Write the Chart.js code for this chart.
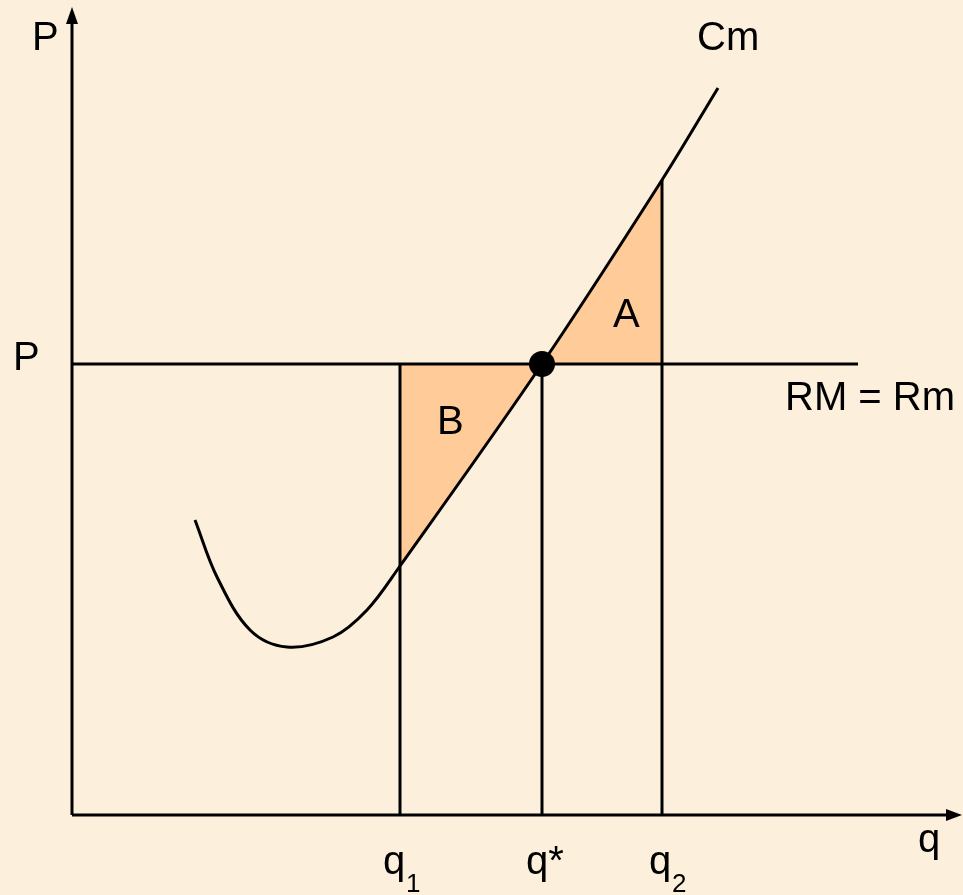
<!DOCTYPE html>
<html>
<head>
<meta charset="utf-8">
<script src="https://cdn.jsdelivr.net/npm/chart.js@4.4.0/dist/chart.umd.min.js"></script>
<style>
    html, body { margin: 0; padding: 0; background: #fcf0dc; }
    canvas { display: block; }
</style>
</head>
<body>
<canvas id="surplusChart" width="963" height="895"></canvas>
<script>
// quantities and price level
const q1 = 32.8;
const qStar = 47.0;
const q2 = 59.0;
const price = 45.1;
const priceLineEnd = 78.6;

// marginal cost curve (Cm)
const cmQ = [12.3, 14.5, 17.8, 21.5, 26.1, 29.5, 32.8, 47.0, 59.0, 64.6];
const cmValues = [29.5, 23.8, 18.5, 16.8, 17.8, 20.5, 24.9, 45.1, 63.5, 72.7];

// axis extents
const qAxisEnd = 89.0;
const pAxisEnd = 80.8;

// labels
const labelText = ['P', 'P', 'Cm', 'RM = Rm', 'A', 'B', 'q', 'q', '1', 'q*', 'q', '2'];
const labelX = [-4.0, -5.9, 62.5, 71.3, 54.1, 36.5, 84.6, 31.1, 33.4, 45.4, 57.7, 60.0];
const labelY = [76.5, 44.5, 76.5, 40.5, 48.8, 38.1, -3.7, -5.9, -7.7, -5.9, -5.9, -7.7];
const labelSize = [40, 40, 40, 40, 40, 40, 40, 40, 26, 40, 40, 26];

const cmAt = q => cmValues[cmQ.indexOf(q)];

function drawArrow(ctx, tipX, tipY, dir) {
    ctx.beginPath();
    if (dir === 'up') {
        ctx.moveTo(tipX, tipY);
        ctx.lineTo(tipX - 6, tipY + 17);
        ctx.lineTo(tipX + 6, tipY + 17);
    } else {
        ctx.moveTo(tipX, tipY);
        ctx.lineTo(tipX - 16, tipY - 6);
        ctx.lineTo(tipX - 16, tipY + 6);
    }
    ctx.closePath();
    ctx.fill();
}

const diagramText = {
    id: 'diagramText',
    afterDatasetsDraw(chart) {
        const { ctx, scales: { x, y } } = chart;
        ctx.save();
        ctx.fillStyle = '#000';

        // arrow heads on the two axes
        drawArrow(ctx, x.getPixelForValue(0), y.getPixelForValue(pAxisEnd), 'up');
        drawArrow(ctx, x.getPixelForValue(qAxisEnd), y.getPixelForValue(0), 'right');

        labelText.forEach((text, i) => {
            ctx.font = `${labelSize[i]}px "Liberation Sans", Arial, sans-serif`;
            ctx.textAlign = 'left';
            ctx.textBaseline = 'alphabetic';
            ctx.fillText(text, x.getPixelForValue(labelX[i]), y.getPixelForValue(labelY[i]));
        });
        ctx.restore();
    }
};

function segment(points, width) {
    return {
        data: points,
        borderColor: '#000',
        borderWidth: width || 3,
        pointRadius: 0,
        fill: false
    };
}

const ctx = document.getElementById('surplusChart').getContext('2d');
new Chart(ctx, {
    type: 'line',
    data: {
        datasets: [
            // equilibrium point
            {
                data: [{ x: qStar, y: price }],
                showLine: false,
                pointRadius: 13,
                pointBackgroundColor: '#000',
                pointBorderWidth: 0
            },
            // Cm curve
            {
                data: cmQ.map((q, i) => ({ x: q, y: cmValues[i] })),
                borderColor: '#000',
                borderWidth: 3,
                pointRadius: 0,
                tension: 0.35,
                fill: false
            },
            // RM = Rm price line
            segment([{ x: 0, y: price }, { x: priceLineEnd, y: price }]),
            // quantity drop lines
            segment([{ x: q1, y: 0 }, { x: q1, y: price }]),
            segment([{ x: qStar, y: 0 }, { x: qStar, y: price }]),
            segment([{ x: q2, y: 0 }, { x: q2, y: cmAt(q2) }]),
            // axes
            segment([{ x: 0, y: 0 }, { x: 0, y: pAxisEnd - 1 }]),
            segment([{ x: 0, y: 0 }, { x: qAxisEnd - 1, y: 0 }]),
            // area A
            {
                data: [{ x: qStar, y: price }, { x: q2, y: cmAt(q2) }],
                borderColor: 'transparent',
                backgroundColor: '#ffcc99',
                pointRadius: 0,
                fill: { value: price }
            },
            // area B
            {
                data: [{ x: q1, y: cmAt(q1) }, { x: qStar, y: price }],
                borderColor: 'transparent',
                backgroundColor: '#ffcc99',
                pointRadius: 0,
                fill: { value: price }
            }
        ]
    },
    options: {
        responsive: false,
        animation: false,
        events: [],
        layout: { padding: 0, autoPadding: false },
        plugins: {
            legend: { display: false },
            tooltip: { enabled: false }
        },
        scales: {
            x: { type: 'linear', min: -7.2, max: 89.1, display: false },
            y: { type: 'linear', min: -8.0, max: 81.5, display: false }
        }
    },
    plugins: [diagramText]
});
</script>
</body>
</html>
